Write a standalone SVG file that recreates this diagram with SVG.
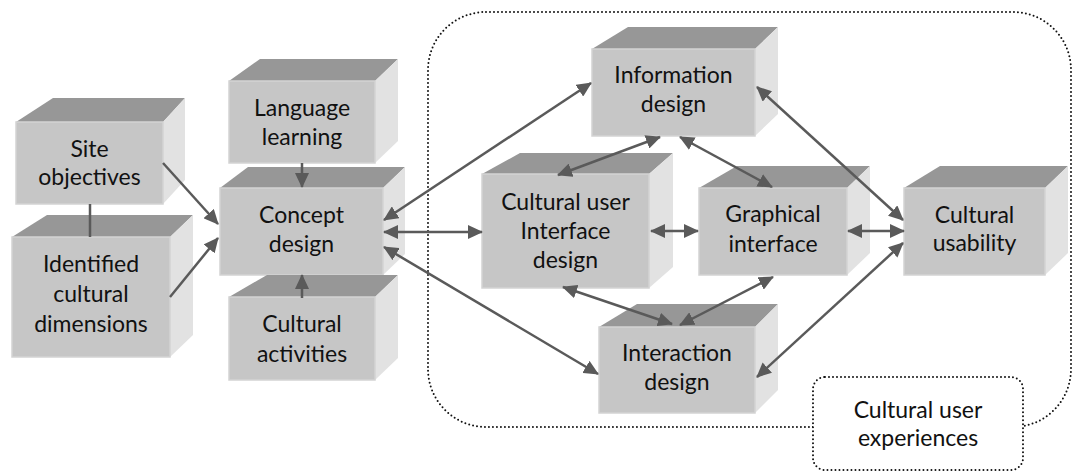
<svg xmlns="http://www.w3.org/2000/svg" width="1075" height="476" viewBox="0 0 1075 476">
  <defs>
    <style>
      .top { fill: #979797; }
      .side { fill: #e2e2e2; }
      .front { fill: #c6c6c6; stroke: #d3d3d3; stroke-width: 1.5; }
      .lbl { font-family: Lato, "Open Sans", sans-serif; font-size: 23px; fill: #111; text-anchor: middle; }
      .dots { fill: none; stroke: #111; stroke-width: 2; stroke-linecap: round; stroke-dasharray: 0 4; }
      .conn line { stroke: #5a5a5a; stroke-width: 2.5; }
    </style>
    <marker id="head" markerUnits="userSpaceOnUse" markerWidth="16" markerHeight="14" refX="14" refY="7" orient="auto-start-reverse">
      <path d="M0,0 L15,7 L0,14 z" fill="#5a5a5a"/>
    </marker>
  </defs>
  <rect width="1075" height="476" fill="#fff"/>

  <!-- cultural user experiences region -->
  <rect class="dots" x="428" y="12" width="643" height="415" rx="58" ry="58"/>

  <!-- nodes -->
  <g id="site-objectives">
    <polygon class="top" points="16,122 53,98 185,98 163,122"/>
    <polygon class="side" points="163,122 185,98 185,180 163,204"/>
    <rect class="front" x="16" y="122" width="147" height="82"/>
    <text class="lbl" x="89.5" y="157">Site</text>
    <text class="lbl" x="89.5" y="185">objectives</text>
  </g>
  <g id="identified-dimensions">
    <polygon class="top" points="12,237 47,215 193,215 170,237"/>
    <polygon class="side" points="170,237 193,215 193,335 170,357"/>
    <rect class="front" x="12" y="237" width="158" height="120"/>
    <text class="lbl" x="91" y="272">Identified</text>
    <text class="lbl" x="91" y="302">cultural</text>
    <text class="lbl" x="91" y="332">dimensions</text>
  </g>
  <g id="language-learning">
    <polygon class="top" points="229,81 260,59 398,59 375,81"/>
    <polygon class="side" points="375,81 398,59 398,141 375,163"/>
    <rect class="front" x="229" y="81" width="146" height="82"/>
    <text class="lbl" x="302" y="116">Language</text>
    <text class="lbl" x="302" y="145">learning</text>
  </g>
  <g id="concept-design">
    <polygon class="top" points="220,188 248,167 405,167 383,188"/>
    <polygon class="side" points="383,188 405,167 405,254 383,275"/>
    <rect class="front" x="220" y="188" width="163" height="87"/>
    <text class="lbl" x="301.5" y="223">Concept</text>
    <text class="lbl" x="301.5" y="252">design</text>
  </g>
  <g id="cultural-activities">
    <polygon class="top" points="229,297 267,275 398,275 375,297"/>
    <polygon class="side" points="375,297 398,275 398,358 375,380"/>
    <rect class="front" x="229" y="297" width="146" height="83"/>
    <text class="lbl" x="302" y="332">Cultural</text>
    <text class="lbl" x="302" y="362">activities</text>
  </g>
  <g id="information-design">
    <polygon class="top" points="592,49 628,27 778,27 755,49"/>
    <polygon class="side" points="755,49 778,27 778,114 755,136"/>
    <rect class="front" x="592" y="49" width="163" height="87"/>
    <text class="lbl" x="673.5" y="83">Information</text>
    <text class="lbl" x="673.5" y="112">design</text>
  </g>
  <g id="cultural-ui-design">
    <polygon class="top" points="482,174 520,153 673,153 649,174"/>
    <polygon class="side" points="649,174 673,153 673,267 649,288"/>
    <rect class="front" x="482" y="174" width="167" height="114"/>
    <text class="lbl" x="565.5" y="210">Cultural user</text>
    <text class="lbl" x="565.5" y="239">Interface</text>
    <text class="lbl" x="565.5" y="268">design</text>
  </g>
  <g id="graphical-interface">
    <polygon class="top" points="699,188 737,166 870,166 847,188"/>
    <polygon class="side" points="847,188 870,166 870,253 847,275"/>
    <rect class="front" x="699" y="188" width="148" height="87"/>
    <text class="lbl" x="773" y="222">Graphical</text>
    <text class="lbl" x="773" y="252">interface</text>
  </g>
  <g id="cultural-usability">
    <polygon class="top" points="904,188 940,166 1068,166 1045,188"/>
    <polygon class="side" points="1045,188 1068,166 1068,253 1045,275"/>
    <rect class="front" x="904" y="188" width="141" height="87"/>
    <text class="lbl" x="974.5" y="223">Cultural</text>
    <text class="lbl" x="974.5" y="251">usability</text>
  </g>
  <g id="interaction-design">
    <polygon class="top" points="599,327 637,304 778,304 755,327"/>
    <polygon class="side" points="755,327 778,304 778,390 755,413"/>
    <rect class="front" x="599" y="327" width="156" height="86"/>
    <text class="lbl" x="677" y="361">Interaction</text>
    <text class="lbl" x="677" y="390">design</text>
  </g>

  <!-- connectors -->
  <g id="connectors" class="conn">
    <line x1="90" y1="204" x2="90" y2="237"/>
    <line x1="163" y1="163" x2="218" y2="224" marker-end="url(#head)"/>
    <line x1="170" y1="297" x2="218" y2="238" marker-end="url(#head)"/>
    <line x1="302" y1="163" x2="302" y2="187" marker-end="url(#head)"/>
    <line x1="302" y1="298" x2="302" y2="275" marker-end="url(#head)"/>
    <line x1="384" y1="220" x2="591" y2="83" marker-start="url(#head)" marker-end="url(#head)"/>
    <line x1="384" y1="232" x2="482" y2="232" marker-start="url(#head)" marker-end="url(#head)"/>
    <line x1="384" y1="247" x2="598" y2="374" marker-start="url(#head)" marker-end="url(#head)"/>
    <line x1="660" y1="137" x2="558" y2="175" marker-start="url(#head)" marker-end="url(#head)"/>
    <line x1="680" y1="137" x2="772" y2="187" marker-start="url(#head)" marker-end="url(#head)"/>
    <line x1="651" y1="231" x2="698" y2="231" marker-start="url(#head)" marker-end="url(#head)"/>
    <line x1="848" y1="231" x2="904" y2="231" marker-start="url(#head)" marker-end="url(#head)"/>
    <line x1="757" y1="87" x2="903" y2="220" marker-start="url(#head)" marker-end="url(#head)"/>
    <line x1="903" y1="243" x2="757" y2="377" marker-start="url(#head)" marker-end="url(#head)"/>
    <line x1="563" y1="287" x2="672" y2="324" marker-start="url(#head)" marker-end="url(#head)"/>
    <line x1="773" y1="277" x2="680" y2="325" marker-start="url(#head)" marker-end="url(#head)"/>
  </g>

  <!-- region label -->
  <g id="region-label">
    <rect class="dots" x="813" y="377" width="210" height="93" rx="12" ry="12" style="fill:#fff"/>
    <text class="lbl" x="918" y="418">Cultural user</text>
    <text class="lbl" x="918" y="446">experiences</text>
  </g>
</svg>
